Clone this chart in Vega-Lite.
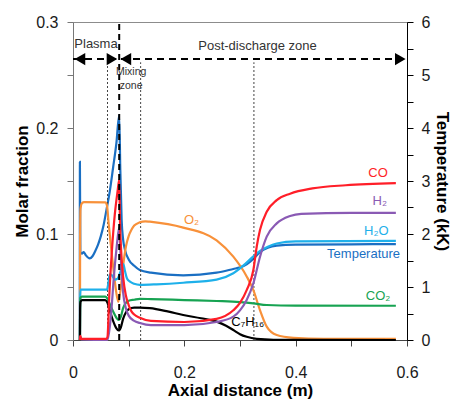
{
  "$schema": "https://vega.github.io/schema/vega-lite/v6.json",
  "width": 334,
  "height": 318,
  "autosize": "none",
  "padding": {"left": 73, "top": 22, "right": 45, "bottom": 59},
  "background": "white",
  "config": {
    "view": {"stroke": "#8c8c8c", "strokeWidth": 1},
    "font": "Liberation Sans",
    "axis": {"grid": false, "labelFont": "Liberation Sans", "titleFont": "Liberation Sans", "labelFontSize": 16, "titleFontSize": 17, "titleFontWeight": "bold", "labelColor": "#1a1a1a", "titleColor": "#000", "tickSize": 6, "tickWidth": 1}
  },
  "datasets": {
    "molar": [
      {"s": "O2", "x": 0.0125, "y": 0}, {"s": "O2", "x": 0.0128, "y": 0.1}, {"s": "O2", "x": 0.0135, "y": 0.124}, {"s": "O2", "x": 0.016, "y": 0.129}, {"s": "O2", "x": 0.02, "y": 0.13}, {"s": "O2", "x": 0.058, "y": 0.1298}, {"s": "O2", "x": 0.061, "y": 0.127}, {"s": "O2", "x": 0.064, "y": 0.11}, {"s": "O2", "x": 0.0695, "y": 0.082}, {"s": "O2", "x": 0.075, "y": 0.056}, {"s": "O2", "x": 0.0814, "y": 0.036}, {"s": "O2", "x": 0.086, "y": 0.05}, {"s": "O2", "x": 0.09, "y": 0.07}, {"s": "O2", "x": 0.095, "y": 0.088}, {"s": "O2", "x": 0.1, "y": 0.098}, {"s": "O2", "x": 0.105, "y": 0.104}, {"s": "O2", "x": 0.11, "y": 0.108}, {"s": "O2", "x": 0.12, "y": 0.111}, {"s": "O2", "x": 0.13, "y": 0.112}, {"s": "O2", "x": 0.138, "y": 0.1116}, {"s": "O2", "x": 0.198, "y": 0.106}, {"s": "O2", "x": 0.258, "y": 0.094}, {"s": "O2", "x": 0.288, "y": 0.0786}, {"s": "O2", "x": 0.312, "y": 0.06}, {"s": "O2", "x": 0.324, "y": 0.047}, {"s": "O2", "x": 0.336, "y": 0.028}, {"s": "O2", "x": 0.348, "y": 0.0126}, {"s": "O2", "x": 0.366, "y": 0.0047}, {"s": "O2", "x": 0.396, "y": 0.002}, {"s": "O2", "x": 0.45, "y": 0.001}, {"s": "O2", "x": 0.58, "y": 0.001},

      {"s": "H2O", "x": 0.0125, "y": 0}, {"s": "H2O", "x": 0.0128, "y": 0.04}, {"s": "H2O", "x": 0.0135, "y": 0.0475}, {"s": "H2O", "x": 0.061, "y": 0.0475}, {"s": "H2O", "x": 0.063, "y": 0.052}, {"s": "H2O", "x": 0.066, "y": 0.062}, {"s": "H2O", "x": 0.07, "y": 0.061}, {"s": "H2O", "x": 0.075, "y": 0.057}, {"s": "H2O", "x": 0.08, "y": 0.058}, {"s": "H2O", "x": 0.085, "y": 0.064}, {"s": "H2O", "x": 0.0904, "y": 0.0717}, {"s": "H2O", "x": 0.0934, "y": 0.065}, {"s": "H2O", "x": 0.097, "y": 0.058}, {"s": "H2O", "x": 0.1024, "y": 0.055}, {"s": "H2O", "x": 0.11, "y": 0.053}, {"s": "H2O", "x": 0.12, "y": 0.052}, {"s": "H2O", "x": 0.15, "y": 0.0525}, {"s": "H2O", "x": 0.198, "y": 0.054}, {"s": "H2O", "x": 0.258, "y": 0.057}, {"s": "H2O", "x": 0.288, "y": 0.063}, {"s": "H2O", "x": 0.31, "y": 0.072}, {"s": "H2O", "x": 0.324, "y": 0.079}, {"s": "H2O", "x": 0.336, "y": 0.084}, {"s": "H2O", "x": 0.35, "y": 0.088}, {"s": "H2O", "x": 0.366, "y": 0.091}, {"s": "H2O", "x": 0.4, "y": 0.093}, {"s": "H2O", "x": 0.58, "y": 0.0935},

      {"s": "CO2", "x": 0.0125, "y": 0}, {"s": "CO2", "x": 0.0128, "y": 0.035}, {"s": "CO2", "x": 0.0135, "y": 0.04}, {"s": "CO2", "x": 0.016, "y": 0.041}, {"s": "CO2", "x": 0.058, "y": 0.041}, {"s": "CO2", "x": 0.062, "y": 0.039}, {"s": "CO2", "x": 0.066, "y": 0.034}, {"s": "CO2", "x": 0.072, "y": 0.027}, {"s": "CO2", "x": 0.078, "y": 0.021}, {"s": "CO2", "x": 0.082, "y": 0.019}, {"s": "CO2", "x": 0.086, "y": 0.022}, {"s": "CO2", "x": 0.09, "y": 0.03}, {"s": "CO2", "x": 0.095, "y": 0.035}, {"s": "CO2", "x": 0.1, "y": 0.037}, {"s": "CO2", "x": 0.11, "y": 0.038}, {"s": "CO2", "x": 0.12, "y": 0.0388}, {"s": "CO2", "x": 0.14, "y": 0.0386}, {"s": "CO2", "x": 0.2, "y": 0.0377}, {"s": "CO2", "x": 0.258, "y": 0.0368}, {"s": "CO2", "x": 0.3, "y": 0.0358}, {"s": "CO2", "x": 0.324, "y": 0.0346}, {"s": "CO2", "x": 0.348, "y": 0.033}, {"s": "CO2", "x": 0.4, "y": 0.0324}, {"s": "CO2", "x": 0.58, "y": 0.0323},

      {"s": "C7H16", "x": 0.0125, "y": 0}, {"s": "C7H16", "x": 0.0128, "y": 0.03}, {"s": "C7H16", "x": 0.0135, "y": 0.036}, {"s": "C7H16", "x": 0.016, "y": 0.0377}, {"s": "C7H16", "x": 0.058, "y": 0.0377}, {"s": "C7H16", "x": 0.062, "y": 0.035}, {"s": "C7H16", "x": 0.066, "y": 0.028}, {"s": "C7H16", "x": 0.072, "y": 0.018}, {"s": "C7H16", "x": 0.078, "y": 0.011}, {"s": "C7H16", "x": 0.082, "y": 0.009}, {"s": "C7H16", "x": 0.086, "y": 0.012}, {"s": "C7H16", "x": 0.09, "y": 0.02}, {"s": "C7H16", "x": 0.095, "y": 0.026}, {"s": "C7H16", "x": 0.1, "y": 0.029}, {"s": "C7H16", "x": 0.11, "y": 0.0305}, {"s": "C7H16", "x": 0.12, "y": 0.0305}, {"s": "C7H16", "x": 0.138, "y": 0.03}, {"s": "C7H16", "x": 0.17, "y": 0.027}, {"s": "C7H16", "x": 0.198, "y": 0.0236}, {"s": "C7H16", "x": 0.23, "y": 0.0205}, {"s": "C7H16", "x": 0.258, "y": 0.0173}, {"s": "C7H16", "x": 0.275, "y": 0.0135}, {"s": "C7H16", "x": 0.288, "y": 0.0094}, {"s": "C7H16", "x": 0.3, "y": 0.0055}, {"s": "C7H16", "x": 0.312, "y": 0.003}, {"s": "C7H16", "x": 0.33, "y": 0.001}, {"s": "C7H16", "x": 0.36, "y": 0.0002}, {"s": "C7H16", "x": 0.58, "y": 0},

      {"s": "H2", "x": 0.0125, "y": 0}, {"s": "H2", "x": 0.013, "y": 0.003}, {"s": "H2", "x": 0.015, "y": 0.0005}, {"s": "H2", "x": 0.062, "y": 0}, {"s": "H2", "x": 0.066, "y": 0.012}, {"s": "H2", "x": 0.07, "y": 0.035}, {"s": "H2", "x": 0.0724, "y": 0.053}, {"s": "H2", "x": 0.0785, "y": 0.088}, {"s": "H2", "x": 0.083, "y": 0.106}, {"s": "H2", "x": 0.0855, "y": 0.08}, {"s": "H2", "x": 0.088, "y": 0.058}, {"s": "H2", "x": 0.09, "y": 0.045}, {"s": "H2", "x": 0.095, "y": 0.03}, {"s": "H2", "x": 0.1, "y": 0.023}, {"s": "H2", "x": 0.11, "y": 0.018}, {"s": "H2", "x": 0.12, "y": 0.016}, {"s": "H2", "x": 0.14, "y": 0.014}, {"s": "H2", "x": 0.2, "y": 0.014}, {"s": "H2", "x": 0.258, "y": 0.017}, {"s": "H2", "x": 0.288, "y": 0.022}, {"s": "H2", "x": 0.3, "y": 0.028}, {"s": "H2", "x": 0.312, "y": 0.0377}, {"s": "H2", "x": 0.324, "y": 0.0535}, {"s": "H2", "x": 0.336, "y": 0.0786}, {"s": "H2", "x": 0.348, "y": 0.0975}, {"s": "H2", "x": 0.366, "y": 0.11}, {"s": "H2", "x": 0.39, "y": 0.117}, {"s": "H2", "x": 0.41, "y": 0.119}, {"s": "H2", "x": 0.5, "y": 0.12}, {"s": "H2", "x": 0.58, "y": 0.12},

      {"s": "CO", "x": 0.0125, "y": 0}, {"s": "CO", "x": 0.013, "y": 0.004}, {"s": "CO", "x": 0.015, "y": 0.001}, {"s": "CO", "x": 0.06, "y": 0.001}, {"s": "CO", "x": 0.062, "y": 0.003}, {"s": "CO", "x": 0.065, "y": 0.04}, {"s": "CO", "x": 0.07, "y": 0.085}, {"s": "CO", "x": 0.075, "y": 0.118}, {"s": "CO", "x": 0.08, "y": 0.14}, {"s": "CO", "x": 0.083, "y": 0.151}, {"s": "CO", "x": 0.0845, "y": 0.11}, {"s": "CO", "x": 0.087, "y": 0.08}, {"s": "CO", "x": 0.09, "y": 0.06}, {"s": "CO", "x": 0.095, "y": 0.042}, {"s": "CO", "x": 0.1, "y": 0.033}, {"s": "CO", "x": 0.105, "y": 0.027}, {"s": "CO", "x": 0.11, "y": 0.024}, {"s": "CO", "x": 0.12, "y": 0.021}, {"s": "CO", "x": 0.14, "y": 0.018}, {"s": "CO", "x": 0.2, "y": 0.017}, {"s": "CO", "x": 0.258, "y": 0.02}, {"s": "CO", "x": 0.288, "y": 0.028}, {"s": "CO", "x": 0.3, "y": 0.035}, {"s": "CO", "x": 0.312, "y": 0.047}, {"s": "CO", "x": 0.324, "y": 0.066}, {"s": "CO", "x": 0.33, "y": 0.088}, {"s": "CO", "x": 0.336, "y": 0.104}, {"s": "CO", "x": 0.348, "y": 0.121}, {"s": "CO", "x": 0.366, "y": 0.132}, {"s": "CO", "x": 0.39, "y": 0.138}, {"s": "CO", "x": 0.43, "y": 0.143}, {"s": "CO", "x": 0.49, "y": 0.146}, {"s": "CO", "x": 0.58, "y": 0.148}
    ],
    "temp": [
      {"x": 0.0122, "T": 0}, {"x": 0.0124, "T": 3.36}, {"x": 0.0132, "T": 1.66}, {"x": 0.016, "T": 1.63}, {"x": 0.019, "T": 1.66}, {"x": 0.023, "T": 1.6}, {"x": 0.03, "T": 1.54}, {"x": 0.035, "T": 1.58}, {"x": 0.04, "T": 1.68}, {"x": 0.045, "T": 1.8}, {"x": 0.05, "T": 1.96}, {"x": 0.055, "T": 2.17}, {"x": 0.06, "T": 2.45}, {"x": 0.066, "T": 2.8}, {"x": 0.072, "T": 3.25}, {"x": 0.078, "T": 3.72}, {"x": 0.083, "T": 4.24}, {"x": 0.085, "T": 3.2}, {"x": 0.0874, "T": 2.26}, {"x": 0.09, "T": 1.9}, {"x": 0.0934, "T": 1.7}, {"x": 0.1, "T": 1.52}, {"x": 0.11, "T": 1.4}, {"x": 0.12, "T": 1.32}, {"x": 0.14, "T": 1.27}, {"x": 0.198, "T": 1.22}, {"x": 0.258, "T": 1.27}, {"x": 0.288, "T": 1.34}, {"x": 0.3, "T": 1.37}, {"x": 0.312, "T": 1.43}, {"x": 0.324, "T": 1.53}, {"x": 0.336, "T": 1.66}, {"x": 0.35, "T": 1.74}, {"x": 0.366, "T": 1.78}, {"x": 0.4, "T": 1.8}, {"x": 0.5, "T": 1.805}, {"x": 0.58, "T": 1.81}
    ],
    "labels": [
      {"s": "CO", "t": "CO", "x": 0.548, "y": 0.158},
      {"s": "H2", "t": "H₂", "x": 0.551, "y": 0.131},
      {"s": "H2O", "t": "H₂O", "x": 0.545, "y": 0.103},
      {"s": "T", "t": "Temperature", "x": 0.522, "y": 0.081},
      {"s": "CO2", "t": "CO₂", "x": 0.548, "y": 0.0415},
      {"s": "O2", "t": "O₂", "x": 0.213, "y": 0.113},
      {"s": "C7H16", "t": "C₇H₁₆", "x": 0.314, "y": 0.017}
    ],
    "dots": [
      {"x": 0.062, "y": 0, "y2": 0.262},
      {"x": 0.1215, "y": 0, "y2": 0.262},
      {"x": 0.325, "y": 0, "y2": 0.262}
    ],
    "dash": [{"x": 0.083, "y": 0, "y2": 0.3}],
    "shaft": [{"x": 0, "x2": 0.6, "y": 0.265}],
    "heads": [
      {"x": 0.0125, "y": 0.265, "dir": "left"},
      {"x": 0.07, "y": 0.265, "dir": "right"},
      {"x": 0.095, "y": 0.265, "dir": "left"},
      {"x": 0.588, "y": 0.265, "dir": "right"}
    ],
    "zones": [
      {"t": "Plasma", "x": 0.0413, "y": 0.2792},
      {"t": "Post-discharge zone", "x": 0.3314, "y": 0.2774}
    ],
    "mixing": [
      {"t": "Mixing", "x": 0.1045, "y": 0.2528},
      {"t": "zone", "x": 0.1045, "y": 0.2396}
    ]
  },
  "encoding": {
    "x": {"field": "x", "type": "quantitative", "scale": {"domain": [0, 0.6], "nice": false, "zero": false},
      "axis": {"title": "Axial distance (m)", "values": [0, 0.1, 0.2, 0.3, 0.4, 0.5, 0.6], "format": ".1~f", "labelExpr": "indexof(['0','0.2','0.4','0.6'], datum.label) >= 0 ? datum.label : ''", "labelPadding": 18, "titlePadding": 2, "domainColor": "#444", "tickColor": "#444", "labelFlush": false}}
  },
  "layer": [
    {
      "data": {"name": "temp"},
      "mark": {"type": "line", "color": "#1a6fc3", "strokeWidth": 2.2, "interpolate": "monotone"},
      "encoding": {
        "y": {"field": "T", "type": "quantitative", "scale": {"domain": [0, 6], "nice": false},
          "axis": {"orient": "right", "title": "Temperature (kK)", "values": [0, 0.5, 1, 1.5, 2, 2.5, 3, 3.5, 4, 4.5, 5, 5.5, 6], "format": "~g", "labelExpr": "indexof(['0','1','2','3','4','5','6'], datum.label) >= 0 ? datum.label : ''", "labelPadding": 8, "titlePadding": 3, "domainColor": "#000", "tickColor": "#000", "labelFlush": false}}
      }
    },
    {
      "encoding": {
        "y": {"field": "y", "type": "quantitative", "scale": {"domain": [0, 0.3], "nice": false},
          "axis": {"orient": "left", "title": "Molar fraction", "values": [0, 0.05, 0.1, 0.15, 0.2, 0.25, 0.3], "format": "~g", "labelExpr": "indexof(['0','0.1','0.2','0.3'], datum.label) >= 0 ? datum.label : ''", "labelPadding": 9, "titlePadding": 4, "domainColor": "#777", "tickColor": "#777", "labelFlush": false}}
      },
      "layer": [
        {
          "data": {"name": "dots"},
          "mark": {"type": "rule", "color": "#444", "strokeWidth": 1, "strokeDash": [2, 2]},
          "encoding": {"y2": {"field": "y2"}}
        },
        {
          "data": {"name": "molar"},
          "mark": {"type": "line", "strokeWidth": 2.2, "interpolate": "monotone"},
          "encoding": {
            "color": {"field": "s", "type": "nominal", "scale": {"domain": ["CO", "H2", "H2O", "T", "O2", "CO2", "C7H16"], "range": ["#ff1e28", "#8a5ab4", "#1eb0ea", "#1a6fc3", "#f8913a", "#17a352", "#000000"]}, "legend": null}
          }
        },
        {
          "data": {"name": "dash"},
          "mark": {"type": "rule", "color": "#000", "strokeWidth": 2, "strokeDash": [6, 4]},
          "encoding": {"y2": {"field": "y2"}}
        },
        {
          "data": {"name": "shaft"},
          "mark": {"type": "rule", "color": "#000", "strokeWidth": 2, "strokeDash": [7, 5]},
          "encoding": {"x2": {"field": "x2"}}
        },
        {
          "data": {"name": "heads"},
          "mark": {"type": "point", "filled": true, "opacity": 1, "color": "#000", "size": 150},
          "encoding": {"shape": {"field": "dir", "type": "nominal", "scale": {"domain": ["left", "right"], "range": ["triangle-left", "triangle-right"]}, "legend": null}}
        },
        {
          "data": {"name": "zones"},
          "mark": {"type": "text", "fontSize": 13, "color": "#333", "align": "center", "baseline": "middle"},
          "encoding": {"text": {"field": "t"}}
        },
        {
          "data": {"name": "mixing"},
          "mark": {"type": "text", "fontSize": 10.5, "color": "#333", "align": "center", "baseline": "middle"},
          "encoding": {"text": {"field": "t"}}
        },
        {
          "data": {"name": "labels"},
          "mark": {"type": "text", "fontSize": 13, "align": "center", "baseline": "middle"},
          "encoding": {
            "text": {"field": "t"},
            "color": {"field": "s", "type": "nominal", "legend": null}
          }
        }
      ]
    }
  ],
  "resolve": {"scale": {"y": "independent"}}
}
